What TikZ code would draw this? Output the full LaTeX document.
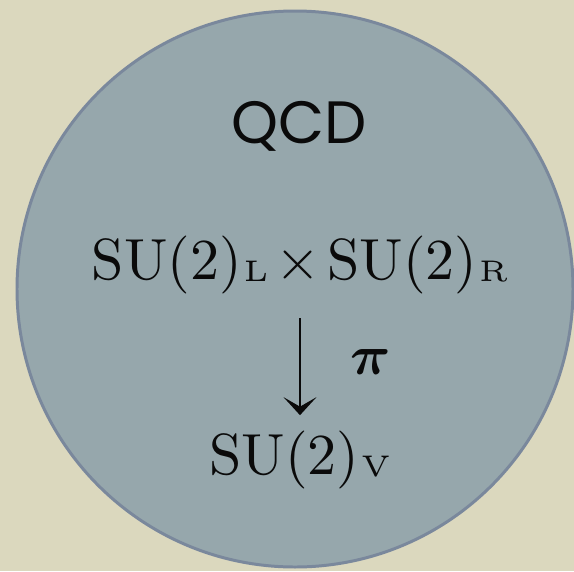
\documentclass[tikz,border=0pt]{standalone}
\usepackage{fontspec}
\usepackage{unicode-math}
\setmathfont{Latin Modern Math}
\usetikzlibrary{arrows.meta, positioning}
\newfontfamily\handfont{Poppins}
\newfontfamily\groupfont{lmroman10-regular.otf}
\newfontfamily\indexfont{lmroman5-regular.otf}
\definecolor{paper}{RGB}{219,216,190}
\definecolor{disc}{RGB}{150,167,172}
\definecolor{rim}{RGB}{122,136,156}
\definecolor{ink}{RGB}{10,10,10}
\newcommand{\grp}[1]{\hspace{1pt}\raisebox{-1.5pt}{\indexfont\fontsize{17}{17}\selectfont #1}}

\begin{document}
\begin{tikzpicture}[
    title/.style={inner sep=0pt, anchor=base, font=\handfont\fontsize{34}{38}\selectfont, text=ink},
    group/.style={inner sep=0pt, anchor=base, font=\groupfont\fontsize{33}{38}\selectfont, text=ink},
    arr/.style={-{Stealth[length=3.6mm,width=6.6mm,inset=1.9mm]}, line width=1.1pt, ink},
]

% Background and disc
\fill[paper] (0,0) rectangle (11.48,-11.42);
\useasboundingbox (0,0) rectangle (11.48,-11.42);
\draw[rim, fill=disc, line width=1.7pt] (5.90,-5.78) circle (5.56cm);

% Labels
\node[title] (qcd) at (5.98,-2.86) {QCD};
\node[group] (chiral) at (6.00,-5.58) {SU(2)\grp{L}\hspace{4pt}×\hspace{4pt}SU(2)\grp{R}};
\node[group] (vector) at (6.00,-9.48) {SU(2)\grp{V}};

% Breaking pattern
\draw[arr, shorten <=0.49cm, shorten >=0.30cm] (chiral) -- node[right=1.0cm, inner sep=0pt, font=\fontsize{32}{36}\selectfont] (pion) {$\symbfit{\pi}$} (vector);

\end{tikzpicture}
\end{document}
